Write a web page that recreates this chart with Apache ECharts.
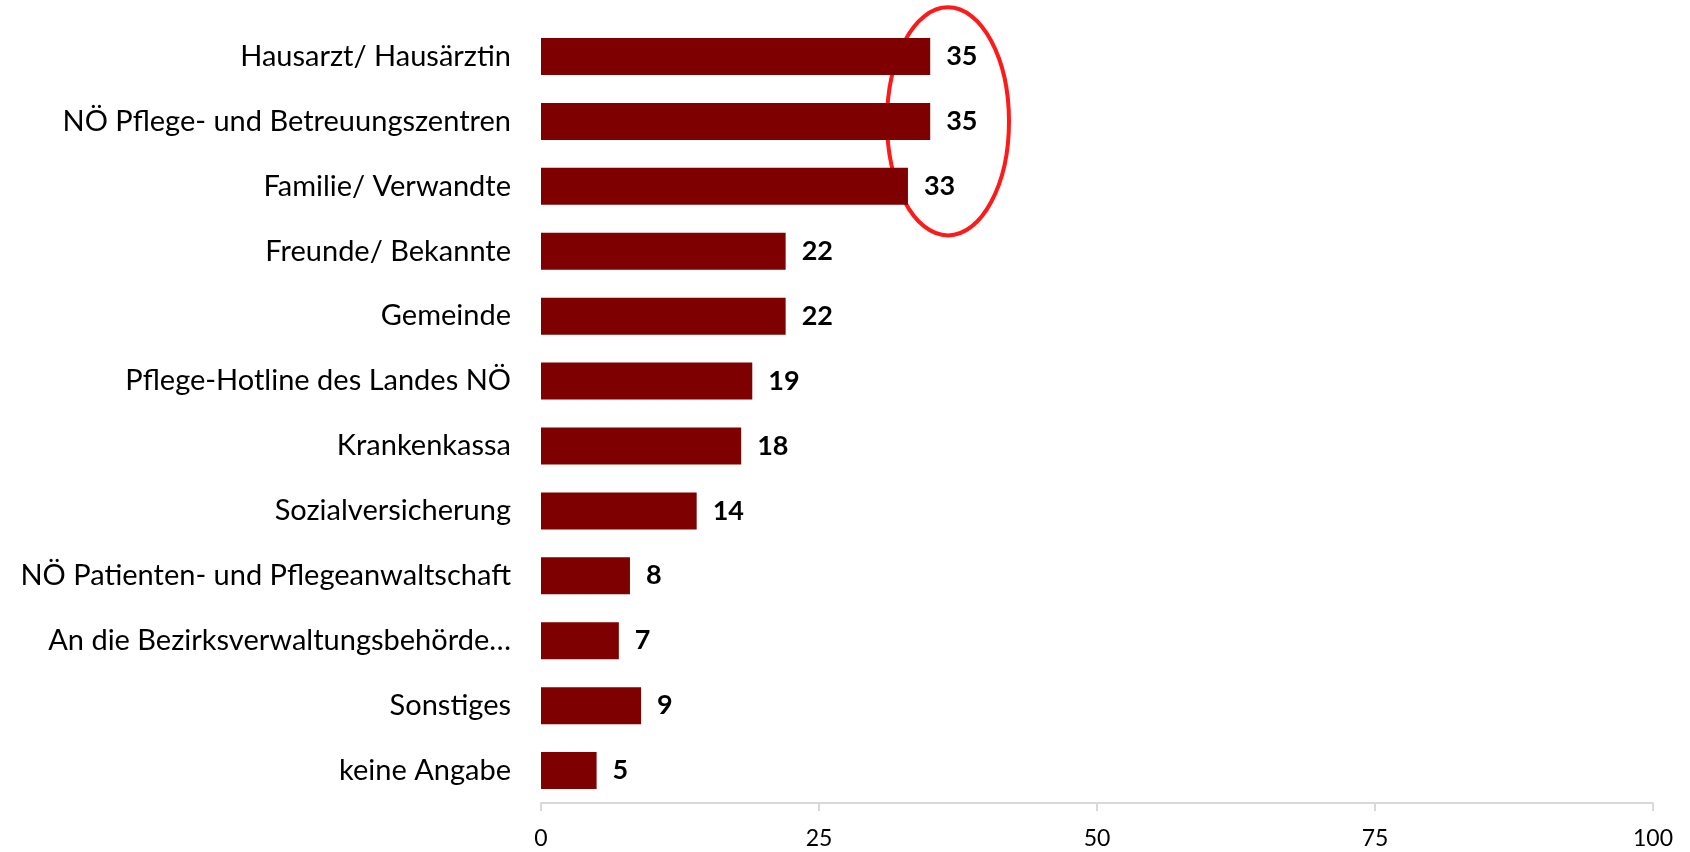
<!DOCTYPE html>
<html>
<head>
<meta charset="utf-8">
<script src="https://cdn.jsdelivr.net/npm/echarts@6/dist/echarts.min.js"></script>
<style>
  html, body { margin: 0; padding: 0; background: #fff; }
  #main { width: 1690px; height: 852px; }
</style>
</head>
<body>
<div id="main"></div>
<script>
const categories = [
  'Hausarzt/ Hausärztin',
  'NÖ Pflege- und Betreuungszentren',
  'Familie/ Verwandte',
  'Freunde/ Bekannte',
  'Gemeinde',
  'Pflege-Hotline des Landes NÖ',
  'Krankenkassa',
  'Sozialversicherung',
  'NÖ Patienten- und Pflegeanwaltschaft',
  'An die Bezirksverwaltungsbehörde…',
  'Sonstiges',
  'keine Angabe'
];
const values = [35, 35, 33, 22, 22, 19, 18, 14, 8, 7, 9, 5];
const xTicks = [0, 25, 50, 75, 100];

const chartDom = document.getElementById('main');
const myChart = echarts.init(chartDom);

const fontFamily = 'Lato, "Open Sans", sans-serif';

const option = {
  backgroundColor: '#ffffff',
  animation: false,
  grid: {
    left: 541,
    right: 37,
    top: 24,
    bottom: 49
  },
  xAxis: {
    type: 'value',
    min: xTicks[0],
    max: xTicks[xTicks.length - 1],
    interval: 25,
    splitLine: { show: false },
    axisLine: { show: true, lineStyle: { color: '#d9d9d9', width: 2 } },
    axisTick: { show: true, length: 8, lineStyle: { color: '#d9d9d9', width: 2 } },
    axisLabel: {
      margin: 24,
      color: '#000',
      fontSize: 23,
      fontFamily: fontFamily
    }
  },
  yAxis: {
    type: 'category',
    inverse: true,
    data: categories,
    axisLine: { show: false },
    axisTick: { show: false },
    axisLabel: {
      margin: 30,
      color: '#000',
      fontSize: 29,
      fontFamily: fontFamily
    }
  },
  series: [
    {
      type: 'bar',
      data: values,
      barWidth: 37,
      itemStyle: { color: '#7f0000' },
      label: {
        show: true,
        position: 'right',
        distance: 16,
        color: '#000',
        fontSize: 27,
        fontWeight: 'bold',
        fontFamily: fontFamily
      }
    }
  ]
};

myChart.setOption(option);

// red ellipse annotation around the top three bars
const center = myChart.convertToPixel({ xAxisIndex: 0, yAxisIndex: 0 }, [36.6, 1]);
myChart.setOption({
  graphic: [
    {
      type: 'ellipse',
      shape: { cx: center[0], cy: center[1], rx: 61, ry: 114 },
      style: { fill: 'none', stroke: '#ff1a1a', lineWidth: 4 }
    }
  ]
});
</script>
</body>
</html>
